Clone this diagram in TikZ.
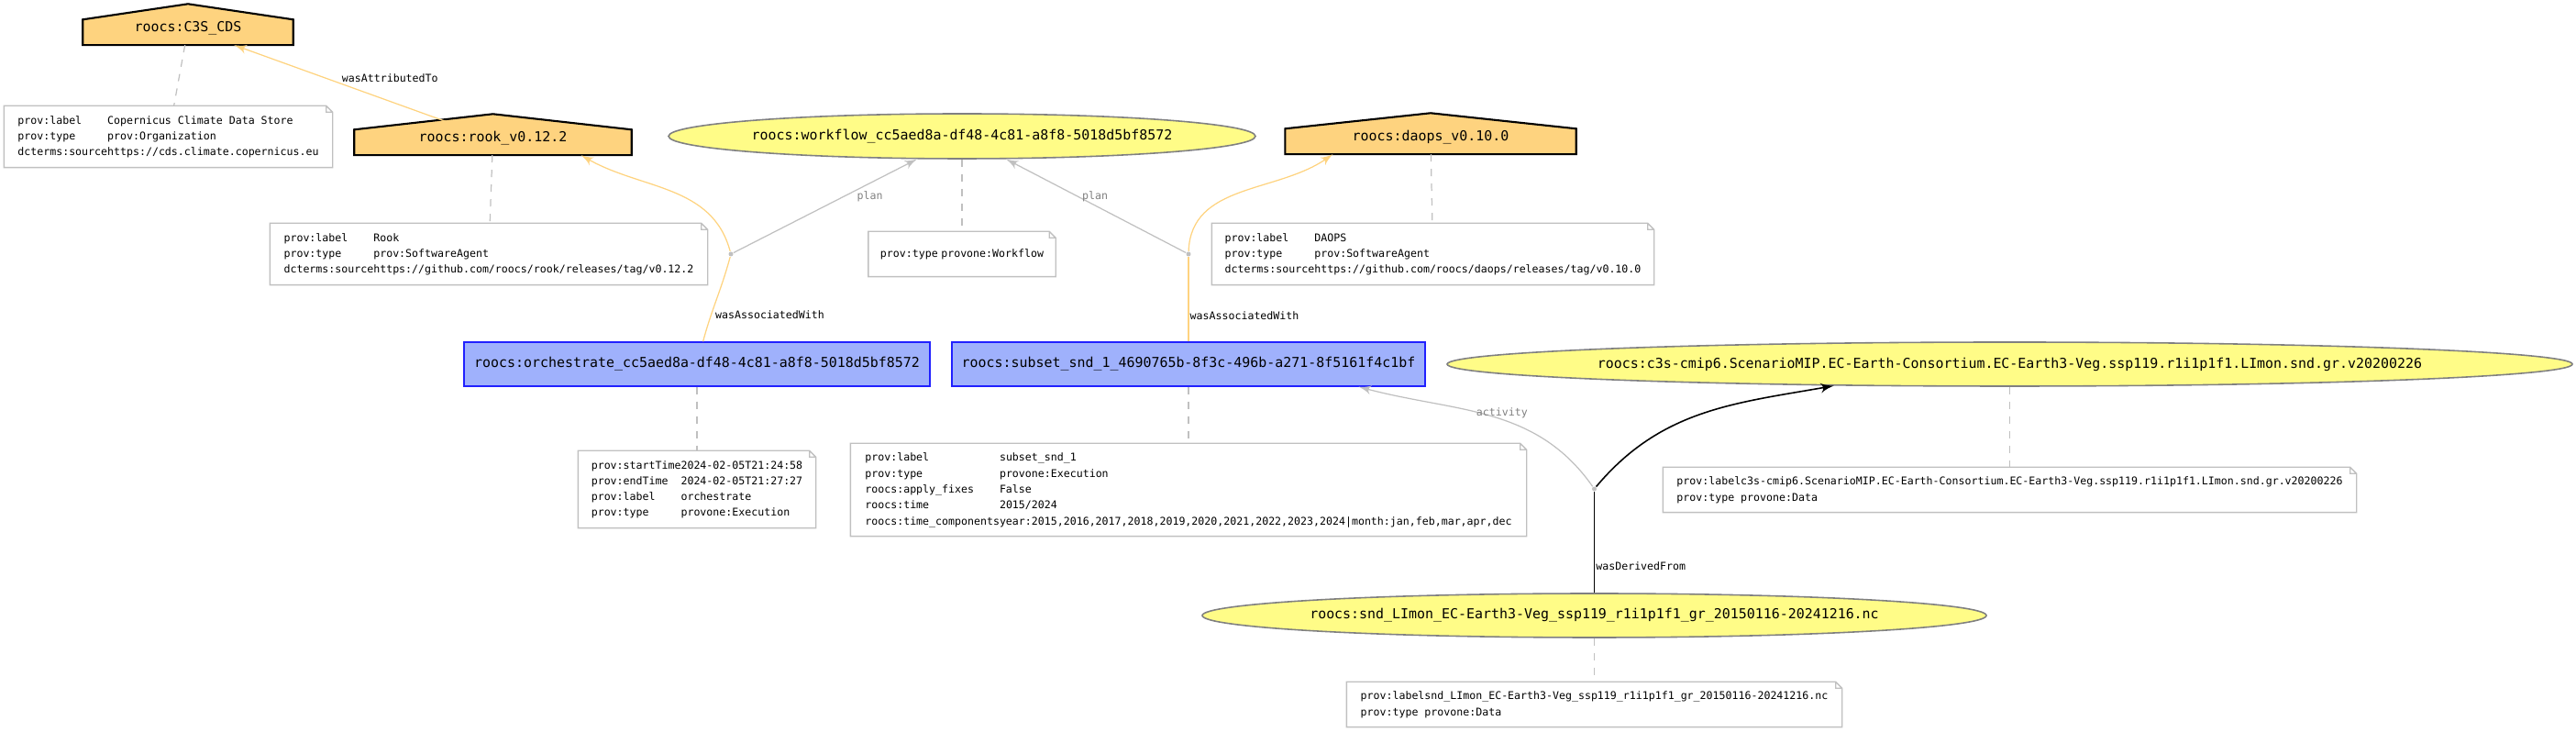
\documentclass[tikz,border=0pt]{standalone}
\usepackage{fontspec}
\setmonofont{DejaVu Sans Mono}
\renewcommand{\arraystretch}{1}
\setlength{\tabcolsep}{0pt}
\usepackage{tikz}
\usetikzlibrary{arrows,shapes.geometric,backgrounds}
\definecolor{agentfill}{HTML}{FED37F}
\definecolor{entityfill}{HTML}{FFFC87}
\definecolor{activityfill}{HTML}{9FB1FC}
\definecolor{activityline}{HTML}{2020FF}
\definecolor{entityline}{HTML}{808080}
\definecolor{annotline}{HTML}{C0C0C0}
\definecolor{auxtext}{HTML}{808080}

\begin{document}
\begin{tikzpicture}[node distance=3cm,>=latex']
		\tikzstyle{agent} = [rectangle, inner sep=0pt, minimum height=0.35cm, font=\ttfamily\fontsize{4.25}{5}\selectfont]
		\tikzstyle{entity} = [ellipse, draw=entityline, fill=entityfill, line width=0.45pt, inner xsep=-3mm, inner ysep=0pt, minimum height=0.48cm, font=\ttfamily\fontsize{4.25}{5}\selectfont]
		\tikzstyle{activity} = [rectangle, draw=activityline, fill=activityfill, line width=0.4pt, inner sep=0.5mm, minimum height=0.48cm, font=\ttfamily\fontsize{4.25}{5}\selectfont]
		\tikzstyle{annot} = [rectangle, inner sep=0pt, font=\ttfamily\fontsize{3.3}{4.92}\selectfont]
		\tikzstyle{blank} = [circle, fill=annotline, inner sep=0pt, minimum size=0.05cm]
		\tikzstyle{assoc} = [draw=agentfill, line width=0.35pt]
		\tikzstyle{aux} = [draw=annotline, line width=0.35pt]
		\tikzstyle{deriv} = [draw=black, line width=0.45pt]
		\tikzstyle{link} = [draw=annotline, line width=0.35pt, dash pattern=on 0.8mm off 0.8mm]
		\tikzstyle{lab} = [font=\ttfamily\fontsize{3.3}{4}\selectfont, inner sep=0.3pt]
		\useasboundingbox (0,0) rectangle (28.09,-7.98);
		% activities, entities, agents
		\node (orch) [activity, minimum width=5.08cm] at (7.6,-3.97) {roocs:orchestrate\_cc5aed8a-df48-4c81-a8f8-5018d5bf8572};
		\node (subset) [activity, right of=orch, node distance=5.36cm, minimum width=5.16cm] {roocs:subset\_snd\_1\_4690765b-8f3c-496b-a271-8f5161f4c1bf};
		\node (c3s) [entity, right of=subset, node distance=8.955cm, minimum width=12.27cm] {roocs:c3s-cmip6.ScenarioMIP.EC-Earth-Consortium.EC-Earth3-Veg.ssp119.r1i1p1f1.LImon.snd.gr.v20200226};
		\node (snd) [entity, below of=c3s, node distance=2.74cm, xshift=-4.53cm, minimum width=8.55cm] {roocs:snd\_LImon\_EC-Earth3-Veg\_ssp119\_r1i1p1f1\_gr\_20150116-20241216.nc};
		\node (wf) [entity, above of=orch, node distance=2.485cm, xshift=2.89cm, minimum width=6.4cm, minimum height=0.49cm] {roocs:workflow\_cc5aed8a-df48-4c81-a8f8-5018d5bf8572};
		\node (rook) [agent, above of=orch, node distance=2.46cm, xshift=-2.225cm, minimum width=3.01cm] {roocs:rook\_v0.12.2};
		\node (daops) [agent, above of=subset, node distance=2.47cm, xshift=2.64cm, minimum width=3.16cm] {roocs:daops\_v0.10.0};
		\node (cds) [agent, above of=rook, node distance=1.2cm, xshift=-3.325cm, minimum width=2.28cm] {roocs:C3S\_CDS};
		\begin{scope}[on background layer]
			\foreach \n in {cds,rook,daops}
				\filldraw[fill=agentfill, draw=black, line width=0.6pt] (\n.south west) -- ([yshift=-0.85mm]\n.north west) -- ([yshift=0.85mm]\n.north) -- ([yshift=-0.85mm]\n.north east) -- (\n.south east) -- cycle;
		\end{scope}
		% blank nodes of the n-ary relations
		\node (d1) [blank, above of=orch, node distance=1.2cm, xshift=0.37cm] {};
		\node (d2) [blank, above of=subset, node distance=1.2cm] {};
		\node (d3) [blank, above of=snd, node distance=1.38cm] {};
		% annotations
		\node (cdsnote) [annot, below of=cds, node distance=1.18cm, xshift=-0.215cm, minimum width=3.57cm, minimum height=0.66cm] {
			\begin{tabular}{ll}
				prov:label & Copernicus Climate Data Store \\
				prov:type & prov:Organization \\
				dcterms:source & https://cds.climate.copernicus.eu
			\end{tabular}
		};
		\node (rooknote) [annot, below of=rook, node distance=1.26cm, xshift=-0.045cm, minimum width=4.76cm, minimum height=0.66cm] {
			\begin{tabular}{ll}
				prov:label & Rook \\
				prov:type & prov:SoftwareAgent \\
				dcterms:source & https://github.com/roocs/rook/releases/tag/v0.12.2
			\end{tabular}
		};
		\node (wfnote) [annot, below of=wf, node distance=1.285cm, minimum width=2.03cm, minimum height=0.48cm] {
			\begin{tabular}{l@{\hspace{0.35mm}}l}
				prov:type & provone:Workflow
			\end{tabular}
		};
		\node (daopsnote) [annot, below of=daops, node distance=1.27cm, xshift=0.025cm, minimum width=4.81cm, minimum height=0.66cm] {
			\begin{tabular}{ll}
				prov:label & DAOPS \\
				prov:type & prov:SoftwareAgent \\
				dcterms:source & https://github.com/roocs/daops/releases/tag/v0.10.0
			\end{tabular}
		};
		\node (orchnote) [annot, below of=orch, node distance=1.365cm, minimum width=2.58cm, minimum height=0.83cm] {
			\begin{tabular}{ll}
				prov:startTime & 2024-02-05T21:24:58 \\
				prov:endTime & 2024-02-05T21:27:27 \\
				prov:label & orchestrate \\
				prov:type & provone:Execution
			\end{tabular}
		};
		\node (subsetnote) [annot, below of=subset, node distance=1.37cm, minimum width=7.36cm, minimum height=1cm] {
			\begin{tabular}{ll}
				prov:label & subset\_snd\_1 \\
				prov:type & provone:Execution \\
				roocs:apply\_fixes & False \\
				roocs:time & 2015/2024 \\
				roocs:time\_components & year:2015,2016,2017,2018,2019,2020,2021,2022,2023,2024|month:jan,feb,mar,apr,dec
			\end{tabular}
		};
		\node (c3snote) [annot, below of=c3s, node distance=1.37cm, minimum width=7.55cm, minimum height=0.48cm] {
			\begin{tabular}{ll}
				prov:label & c3s-cmip6.ScenarioMIP.EC-Earth-Consortium.EC-Earth3-Veg.ssp119.r1i1p1f1.LImon.snd.gr.v20200226 \\
				prov:type & provone:Data
			\end{tabular}
		};
		\node (sndnote) [annot, below of=snd, node distance=0.97cm, minimum width=5.39cm, minimum height=0.48cm] {
			\begin{tabular}{ll}
				prov:label & snd\_LImon\_EC-Earth3-Veg\_ssp119\_r1i1p1f1\_gr\_20150116-20241216.nc \\
				prov:type & provone:Data
			\end{tabular}
		};
		\foreach \n in {cdsnote,rooknote,wfnote,daopsnote,orchnote,subsetnote,c3snote,sndnote}
			\draw[annotline, line width=0.4pt] (\n.south west) -- (\n.north west) -- ([xshift=-0.7mm]\n.north east) -- ([yshift=-0.7mm]\n.north east) -- (\n.south east) -- cycle ([xshift=-0.7mm]\n.north east) |- ([yshift=-0.7mm]\n.north east);
		\foreach \a/\b in {cds/cdsnote,rook/rooknote,wf/wfnote,daops/daopsnote,orch/orchnote,subset/subsetnote,c3s/c3snote,snd/sndnote}
			\draw[link] (\a) -- (\b);
		% relations
		\path[->] (rook) edge[assoc] node[lab, anchor=south west] {wasAttributedTo} (cds);
		\draw[assoc] (orch) to[out=75,in=-105] node[lab, anchor=west, pos=0.3, xshift=0.3mm] {wasAssociatedWith} (d1);
		\draw[assoc,->] (d1) to[out=105,in=-30] ([xshift=-5.5mm]rook.south east);
		\draw[assoc] (subset) -- node[lab, anchor=west, pos=0.3] {wasAssociatedWith} (d2);
		\draw[assoc,->] (d2) to[out=88,in=-145] ([xshift=5.2mm]daops.south west);
		\path[->] (d1) edge[aux] node[lab, auxtext, anchor=west, pos=0.6, xshift=1.3mm] {plan} (wf);
		\path[->] (d2) edge[aux] node[lab, auxtext, anchor=west, pos=0.6, xshift=0.3mm] {plan} (wf);
		\draw[deriv] (snd) -- node[lab, anchor=west, pos=0.26] {wasDerivedFrom} (d3);
		\draw[deriv,->] (d3) to[out=50,in=-170] (c3s.187);
		\draw[aux,->] (d3) to[out=125,in=-15] node[lab, auxtext, anchor=south, pos=0.45] {activity} ([xshift=-7.3mm]subset.south east);
	\end{tikzpicture}
\end{document}
